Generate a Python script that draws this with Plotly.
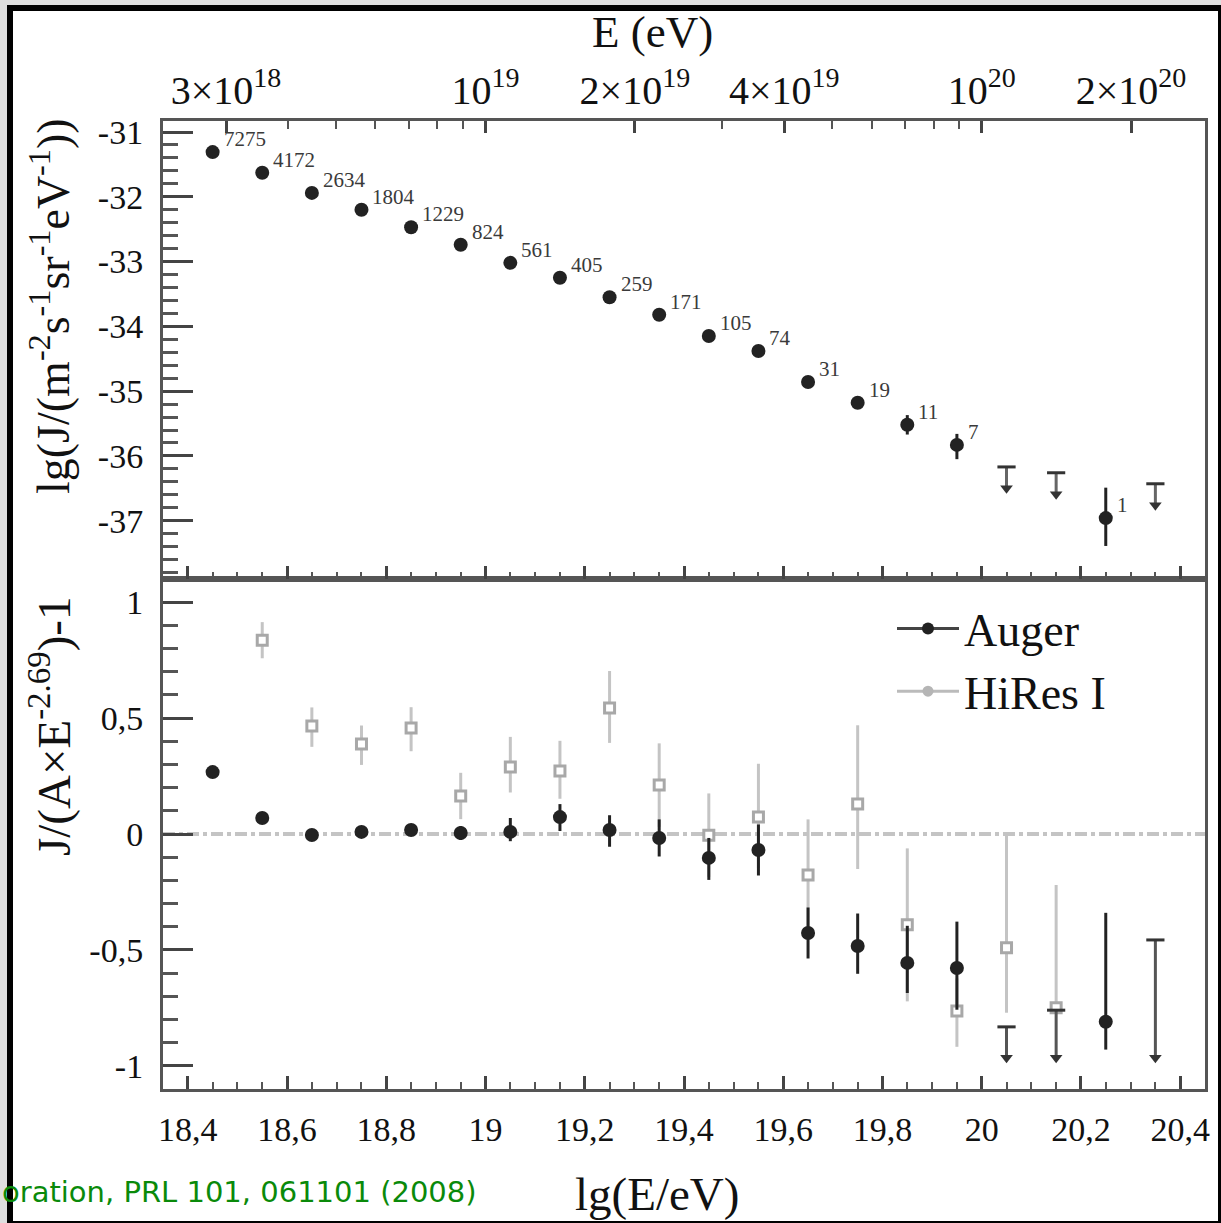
import math
import plotly.graph_objects as go

# ---------------- data ----------------
# upper panel: Auger flux lg(J) vs lg(E/eV)
flux_lgE = [18.45, 18.55, 18.65, 18.75, 18.85, 18.95, 19.05, 19.15, 19.25, 19.35,
            19.45, 19.55, 19.65, 19.75, 19.85, 19.95, 20.25]
flux_lgJ = [-31.31, -31.63, -31.94, -32.20, -32.47, -32.74, -33.02, -33.25, -33.55, -33.82,
            -34.15, -34.38, -34.86, -35.18, -35.52, -35.83, -36.96]
flux_err_plus = [0, 0, 0, 0, 0, 0, 0, 0, 0, 0.01, 0.02, 0.03, 0.05, 0.07, 0.15, 0.17, 0.47]
flux_err_minus = [0, 0, 0, 0, 0, 0, 0, 0, 0, 0.01, 0.02, 0.03, 0.05, 0.07, 0.15, 0.22, 0.43]
event_counts = ["7275", "4172", "2634", "1804", "1229", "824", "561", "405", "259", "171",
                "105", "74", "31", "19", "11", "7", "1"]
flux_ul_lgE = [20.05, 20.15, 20.35]
flux_ul_lgJ = [-36.17, -36.26, -36.43]

# lower panel: J/(A x E^-2.69) - 1
auger_lgE = [18.45, 18.55, 18.65, 18.75, 18.85, 18.95, 19.05, 19.15, 19.25, 19.35,
             19.45, 19.55, 19.65, 19.75, 19.85, 19.95, 20.25]
auger_ratio = [0.267, 0.069, -0.004, 0.009, 0.017, 0.004, 0.009, 0.073, 0.017, -0.017,
               -0.103, -0.069, -0.427, -0.483, -0.556, -0.578, -0.81]
auger_err_plus = [0, 0, 0.02, 0.02, 0.02, 0.03, 0.06, 0.056, 0.064, 0.08,
                  0.086, 0.11, 0.11, 0.14, 0.16, 0.20, 0.47]
auger_err_minus = [0, 0, 0.02, 0.02, 0.02, 0.03, 0.04, 0.06, 0.072, 0.08,
                   0.095, 0.11, 0.11, 0.12, 0.13, 0.18, 0.12]
auger_ul_lgE = [20.05, 20.15, 20.35]
auger_ul_ratio = [-0.832, -0.76, -0.457]

hires_lgE = [18.55, 18.65, 18.75, 18.85, 18.95, 19.05, 19.15, 19.25, 19.35, 19.45,
             19.55, 19.65, 19.75, 19.85, 19.95, 20.05, 20.15]
hires_ratio = [0.836, 0.466, 0.388, 0.457, 0.164, 0.289, 0.272, 0.543, 0.211, -0.005,
               0.073, -0.177, 0.129, -0.392, -0.763, -0.491, -0.75]
hires_err_plus = [0.078, 0.08, 0.08, 0.09, 0.10, 0.13, 0.13, 0.16, 0.18, 0.18,
                  0.23, 0.24, 0.34, 0.33, 0.14, 0.49, 0.53]
hires_err_minus = [0.078, 0.09, 0.09, 0.10, 0.10, 0.11, 0.12, 0.15, 0.18, 0.18,
                   0.22, 0.24, 0.28, 0.33, 0.155, 0.28, 0.0]

# axes
x_ticks = [18.4, 18.6, 18.8, 19.0, 19.2, 19.4, 19.6, 19.8, 20.0, 20.2, 20.4]
x_ticktext = ["18,4", "18,6", "18,8", "19", "19,2", "19,4", "19,6", "19,8", "20", "20,2", "20,4"]
top_E_values = [3e18, 1e19, 2e19, 4e19, 1e20, 2e20]
top_E_text = ["3×10<sup>18</sup>", "10<sup>19</sup>", "2×10<sup>19</sup>",
              "4×10<sup>19</sup>", "10<sup>20</sup>", "2×10<sup>20</sup>"]
top_E_minor = [m * 10 ** p for p in (18, 19, 20) for m in range(1, 10)]
yflux_ticks = [-31, -32, -33, -34, -35, -36, -37]
yflux_text = ["-31", "-32", "-33", "-34", "-35", "-36", "-37"]
yratio_ticks = [1, 0.5, 0, -0.5, -1]
yratio_text = ["1", "0,5", "0", "-0,5", "-1"]

# ---------------- styling ----------------
W, H = 1221, 1223
ML, MR, MT, MB = 163, 16, 121, 134
PW, PH = W - ML - MR, H - MT - MB
SPLIT = 510 / PH
XR = [18.35, 20.45]
SERIF = "Liberation Serif"
AUGER = "#222222"
HIRES_M = "#a8a8a8"
HIRES_B = "#c4c4c4"
ARROW_TOP = 0.33
ARROW_END_BOTTOM = -0.965


def px(xp):
    return (xp - ML) / PW


def py(yp):
    return (H - MB - yp) / PH


fig = go.Figure()

# ---- upper panel ----
fig.add_trace(go.Scatter(
    x=flux_lgE, y=flux_lgJ, mode="markers", xaxis="x2", yaxis="y2", showlegend=False,
    marker=dict(symbol="circle", size=14, color=AUGER),
    error_y=dict(type="data", symmetric=False, array=flux_err_plus, arrayminus=flux_err_minus,
                 width=0, thickness=3, color=AUGER)))
fig.add_trace(go.Scatter(
    x=flux_ul_lgE, y=flux_ul_lgJ, mode="markers", xaxis="x2", yaxis="y2", showlegend=False,
    marker=dict(symbol="line-ew", size=13, line=dict(width=3, color="#333333")),
    error_y=dict(type="data", symmetric=False, array=[0] * len(flux_ul_lgJ),
                 arrayminus=[ARROW_TOP] * len(flux_ul_lgJ), width=0, thickness=3, color="#666666")))
fig.add_trace(go.Scatter(
    x=flux_ul_lgE, y=[v - ARROW_TOP for v in flux_ul_lgJ], mode="markers", xaxis="x2", yaxis="y2",
    showlegend=False, marker=dict(symbol="triangle-down", size=11, color="#333333")))
# carrier for the top energy axis (draws nothing)
fig.add_trace(go.Scatter(
    x=[math.log10(v) for v in top_E_values], y=[None] * len(top_E_values), mode="markers",
    xaxis="x3", yaxis="y2", showlegend=False, hoverinfo="skip"))

# ---- lower panel ----
fig.add_trace(go.Scatter(
    x=hires_lgE, y=hires_ratio, mode="markers", xaxis="x", yaxis="y", showlegend=False,
    marker=dict(symbol="square", size=10, color="white", line=dict(width=3, color=HIRES_M)),
    error_y=dict(type="data", symmetric=False, array=hires_err_plus, arrayminus=hires_err_minus,
                 width=0, thickness=3, color=HIRES_B)))
fig.add_trace(go.Scatter(
    x=auger_ul_lgE, y=auger_ul_ratio, mode="markers", xaxis="x", yaxis="y", showlegend=False,
    marker=dict(symbol="line-ew", size=13, line=dict(width=3, color="#333333")),
    error_y=dict(type="data", symmetric=False, array=[0] * len(auger_ul_ratio),
                 arrayminus=[v - ARROW_END_BOTTOM for v in auger_ul_ratio],
                 width=0, thickness=3, color="#555555")))
fig.add_trace(go.Scatter(
    x=auger_ul_lgE, y=[ARROW_END_BOTTOM] * len(auger_ul_lgE), mode="markers", xaxis="x", yaxis="y",
    showlegend=False, marker=dict(symbol="triangle-down", size=11, color="#333333")))
fig.add_trace(go.Scatter(
    x=auger_lgE, y=auger_ratio, mode="markers", xaxis="x", yaxis="y", showlegend=False,
    marker=dict(symbol="circle", size=14, color=AUGER),
    error_y=dict(type="data", symmetric=False, array=auger_err_plus, arrayminus=auger_err_minus,
                 width=0, thickness=3, color=AUGER)))

# legend proxies
fig.add_trace(go.Scatter(x=[None], y=[None], mode="lines+markers", name="Auger",
                         xaxis="x", yaxis="y",
                         line=dict(color="#444444", width=3),
                         marker=dict(symbol="circle", size=12, color=AUGER)))
fig.add_trace(go.Scatter(x=[None], y=[None], mode="lines+markers", name="HiRes I",
                         xaxis="x", yaxis="y",
                         line=dict(color="#bbbbbb", width=3),
                         marker=dict(symbol="circle", size=11, color="#b5b5b5")))

# event count labels
annotations = []
for xv, yv, t in zip(flux_lgE, flux_lgJ, event_counts):
    annotations.append(dict(x=xv, y=yv, xref="x2", yref="y2", text=t, showarrow=False,
                            xanchor="left", yanchor="middle", xshift=9, yshift=13,
                            font=dict(family=SERIF, size=21, color="#3a3a3a")))

# titles
annotations += [
    dict(x=px(652), y=py(32), xref="paper", yref="paper", text="E (eV)", showarrow=False,
         xanchor="center", yanchor="middle", font=dict(family=SERIF, size=45, color="#111")),
    dict(x=px(657), y=py(1194), xref="paper", yref="paper", text="lg(E/eV)", showarrow=False,
         xanchor="center", yanchor="middle", font=dict(family=SERIF, size=47, color="#111")),
    dict(x=px(50), y=py(306), xref="paper", yref="paper",
         text="lg(J/(m<sup>-2</sup>s<sup>-1</sup>sr<sup>-1</sup>eV<sup>-1</sup>))",
         showarrow=False, textangle=-90, xanchor="center", yanchor="middle",
         font=dict(family=SERIF, size=46, color="#111")),
    dict(x=px(50), y=py(726), xref="paper", yref="paper",
         text="J/(A×E<sup>-2.69</sup>)-1",
         showarrow=False, textangle=-90, xanchor="center", yanchor="middle",
         font=dict(family=SERIF, size=47, color="#111")),
    dict(x=px(0), y=py(1192), xref="paper", yref="paper",
         text="oration, PRL 101, 061101 (2008)", showarrow=False,
         xanchor="left", yanchor="middle",
         font=dict(family="DejaVu Sans", size=29, color="#0a8a0a")),
]

shapes = [
    # slide frame
    dict(type="rect", xref="paper", yref="paper", x0=px(10), x1=px(1221), y0=py(8), y1=py(1224),
         fillcolor="white", line=dict(color="black", width=6), layer="below"),
    # zero reference line
    dict(type="line", xref="x domain", yref="y", x0=0, x1=1, y0=0, y1=0,
         line=dict(color="#c4c4c4", width=4, dash="dashdot"), layer="below"),
]

axis_common = dict(showgrid=False, zeroline=False, showline=True, linecolor="#555555",
                   linewidth=3, ticks="inside", tickcolor="#444444", tickwidth=3,
                   tickfont=dict(family=SERIF, size=34, color="#111"))

fig.update_layout(
    width=W, height=H, autosize=False,
    margin=dict(l=ML, r=MR, t=MT, b=MB),
    paper_bgcolor="#dedede", plot_bgcolor="white",
    showlegend=True,
    legend=dict(x=px(892), y=py(592), xanchor="left", yanchor="top",
                bgcolor="rgba(0,0,0,0)", font=dict(family=SERIF, size=46, color="#111"),
                itemwidth=62, tracegroupgap=0),
    annotations=annotations, shapes=shapes,
    xaxis=dict(**axis_common, domain=[0, 1], range=XR, anchor="y", mirror=True,
               tickmode="array", tickvals=x_ticks, ticktext=x_ticktext, ticklen=13,
               ticklabelstandoff=8,
               minor=dict(dtick=0.05, tick0=18.4, ticks="inside", ticklen=7, tickwidth=2,
                          tickcolor="#555555")),
    yaxis=dict(**axis_common, domain=[0, SPLIT], range=[-1.1, 1.1], anchor="x", mirror=True,
               tickmode="array", tickvals=yratio_ticks, ticktext=yratio_text, ticklen=30,
               ticklabelstandoff=10,
               minor=dict(dtick=0.1, tick0=0, ticks="inside", ticklen=15, tickwidth=3,
                          tickcolor="#555555")),
    xaxis2=dict(**axis_common, domain=[0, 1], range=XR, anchor="y2",
                showticklabels=False, tickmode="array", tickvals=x_ticks, ticklen=13,
                minor=dict(dtick=0.05, tick0=18.4, ticks="inside", ticklen=7, tickwidth=2,
                           tickcolor="#555555")),
    yaxis2=dict(**axis_common, domain=[SPLIT, 1], range=[-37.9, -30.83], anchor="x2", mirror=True,
                tickmode="array", tickvals=yflux_ticks, ticktext=yflux_text, ticklen=30,
                ticklabelstandoff=10,
                minor=dict(dtick=0.2, tick0=-31, ticks="inside", ticklen=15, tickwidth=3,
                           tickcolor="#555555")),
    xaxis3=dict(showgrid=False, zeroline=False, showline=True, linecolor="#555555",
                linewidth=3, ticks="inside", tickcolor="#444444", tickwidth=3,
                tickfont=dict(family=SERIF, size=40, color="#111"),
                overlaying="x2", side="top", anchor="y2", range=XR,
                tickmode="array", tickvals=[math.log10(v) for v in top_E_values],
                ticktext=top_E_text, ticklen=12, ticklabelstandoff=-2,
                minor=dict(tickmode="array", tickvals=[math.log10(v) for v in top_E_minor],
                           ticks="inside", ticklen=8, tickwidth=2, tickcolor="#555555")),
)

fig.write_html("out.html")
